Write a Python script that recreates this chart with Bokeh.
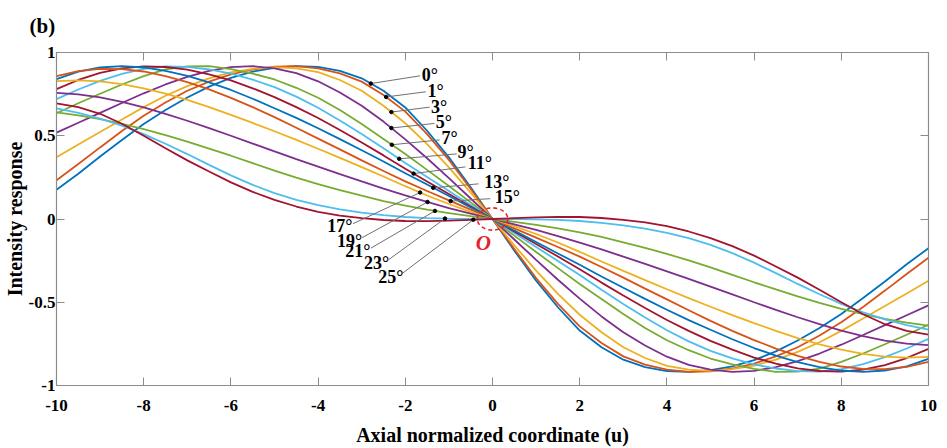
import numpy as np
from bokeh.plotting import figure
from bokeh.models import Range1d, FixedTicker, LinearAxis, Label, ColumnDataSource
from bokeh.core.properties import value
from bokeh.embed import file_html
from bokeh.resources import INLINE

# ---------------- data ----------------
u = [-10, -9.5, -9, -8.5, -8, -7.5, -7, -6.5, -6, -5.5, -5, -4.5, -4, -3.5, -3, -2.5, -2, -1.5, -1, -0.5,
     0, 0.5, 1, 1.5, 2, 2.5, 3, 3.5, 4, 4.5, 5, 5.5, 6, 6.5, 7, 7.5, 8, 8.5, 9, 9.5, 10]

angles = ["0°", "1°", "3°", "5°", "7°", "9°", "11°", "13°", "15°", "17°", "19°", "21°", "23°", "25°"]

r00 = [0.175, 0.272, 0.375, 0.475, 0.57, 0.655, 0.73, 0.795, 0.848, 0.885, 0.908, 0.918, 0.913, 0.89, 0.845,
       0.77, 0.67, 0.53, 0.37, 0.19, 0.0,
       -0.19, -0.37, -0.53, -0.67, -0.77, -0.845, -0.89, -0.913, -0.918, -0.908, -0.885, -0.848, -0.795,
       -0.73, -0.655, -0.57, -0.475, -0.375, -0.272, -0.175]
r01 = [0.232, 0.33, 0.43, 0.528, 0.62, 0.70, 0.77, 0.825, 0.868, 0.898, 0.915, 0.918, 0.905, 0.875, 0.825,
       0.745, 0.645, 0.51, 0.355, 0.18, 0.0,
       -0.18, -0.355, -0.51, -0.645, -0.745, -0.825, -0.875, -0.905, -0.918, -0.915, -0.898, -0.868, -0.825,
       -0.77, -0.70, -0.62, -0.528, -0.43, -0.33, -0.232]
r03 = [0.371, 0.447, 0.522, 0.598, 0.672, 0.74, 0.798, 0.845, 0.88, 0.902, 0.912, 0.905, 0.882, 0.835, 0.77,
       0.68, 0.575, 0.45, 0.31, 0.158, 0.0,
       -0.158, -0.31, -0.45, -0.575, -0.68, -0.77, -0.835, -0.882, -0.905, -0.912, -0.902, -0.88, -0.845,
       -0.798, -0.74, -0.672, -0.598, -0.522, -0.447, -0.371]
r05 = [0.519, 0.578, 0.637, 0.697, 0.755, 0.808, 0.853, 0.89, 0.912, 0.918, 0.905, 0.876, 0.827, 0.76, 0.68,
       0.585, 0.478, 0.365, 0.245, 0.123, 0.0,
       -0.123, -0.245, -0.365, -0.478, -0.585, -0.68, -0.76, -0.827, -0.876, -0.905, -0.918, -0.912, -0.89,
       -0.853, -0.808, -0.755, -0.697, -0.637, -0.578, -0.519]
r07 = [0.635, 0.695, 0.752, 0.808, 0.858, 0.898, 0.917, 0.918, 0.90, 0.873, 0.838, 0.788, 0.728, 0.655, 0.57,
       0.48, 0.39, 0.295, 0.198, 0.10, 0.0,
       -0.10, -0.198, -0.295, -0.39, -0.48, -0.57, -0.655, -0.728, -0.788, -0.838, -0.873, -0.90, -0.918,
       -0.917, -0.898, -0.858, -0.808, -0.752, -0.695, -0.635]
r09 = [0.72, 0.778, 0.83, 0.872, 0.902, 0.916, 0.914, 0.898, 0.873, 0.837, 0.792, 0.735, 0.668, 0.592, 0.51,
       0.425, 0.337, 0.252, 0.168, 0.084, 0.0,
       -0.084, -0.168, -0.252, -0.337, -0.425, -0.51, -0.592, -0.668, -0.735, -0.792, -0.837, -0.873, -0.898,
       -0.914, -0.916, -0.902, -0.872, -0.83, -0.778, -0.72]
r11 = [0.78, 0.835, 0.878, 0.905, 0.917, 0.913, 0.897, 0.868, 0.832, 0.785, 0.732, 0.672, 0.607, 0.535, 0.46,
       0.382, 0.302, 0.225, 0.15, 0.075, 0.0,
       -0.075, -0.15, -0.225, -0.302, -0.382, -0.46, -0.535, -0.607, -0.672, -0.732, -0.785, -0.832, -0.868,
       -0.897, -0.913, -0.917, -0.905, -0.878, -0.835, -0.78]
r13 = [0.84, 0.885, 0.91, 0.918, 0.91, 0.89, 0.86, 0.82, 0.775, 0.722, 0.665, 0.607, 0.545, 0.48, 0.413,
       0.345, 0.275, 0.207, 0.138, 0.069, 0.0,
       -0.069, -0.138, -0.207, -0.275, -0.345, -0.413, -0.48, -0.545, -0.607, -0.665, -0.722, -0.775, -0.82,
       -0.86, -0.89, -0.91, -0.918, -0.91, -0.885, -0.84]
r15 = [0.858, 0.888, 0.902, 0.90, 0.886, 0.858, 0.822, 0.778, 0.727, 0.672, 0.612, 0.548, 0.483, 0.418, 0.352,
       0.288, 0.226, 0.168, 0.112, 0.056, 0.0,
       -0.056, -0.112, -0.168, -0.226, -0.288, -0.352, -0.418, -0.483, -0.548, -0.612, -0.672, -0.727, -0.778,
       -0.822, -0.858, -0.886, -0.90, -0.902, -0.888, -0.858]
r17 = [0.828, 0.832, 0.826, 0.81, 0.785, 0.753, 0.715, 0.672, 0.625, 0.577, 0.527, 0.475, 0.422, 0.367, 0.312,
       0.255, 0.197, 0.141, 0.09, 0.043, 0.0,
       -0.043, -0.09, -0.141, -0.197, -0.255, -0.312, -0.367, -0.422, -0.475, -0.527, -0.577, -0.625, -0.672,
       -0.715, -0.753, -0.785, -0.81, -0.826, -0.832, -0.828]
r19 = [0.758, 0.748, 0.73, 0.703, 0.67, 0.632, 0.59, 0.546, 0.50, 0.453, 0.406, 0.36, 0.315, 0.27, 0.226,
       0.183, 0.142, 0.103, 0.066, 0.032, 0.0,
       -0.032, -0.066, -0.103, -0.142, -0.183, -0.226, -0.27, -0.315, -0.36, -0.406, -0.453, -0.50, -0.546,
       -0.59, -0.632, -0.67, -0.703, -0.73, -0.748, -0.758]
r21 = [0.64, 0.622, 0.60, 0.572, 0.54, 0.504, 0.465, 0.423, 0.38, 0.335, 0.29, 0.249, 0.21, 0.174, 0.14,
       0.108, 0.08, 0.056, 0.035, 0.017, 0.0,
       -0.017, -0.035, -0.056, -0.08, -0.108, -0.14, -0.174, -0.21, -0.249, -0.29, -0.335, -0.38, -0.423,
       -0.465, -0.504, -0.54, -0.572, -0.60, -0.622, -0.64]
r23 = [0.665, 0.637, 0.603, 0.56, 0.51, 0.452, 0.39, 0.325, 0.262, 0.205, 0.155, 0.115, 0.083, 0.058, 0.038,
       0.023, 0.012, 0.005, 0.002, 0.001, 0.0,
       -0.001, -0.002, -0.005, -0.012, -0.023, -0.038, -0.058, -0.083, -0.115, -0.155, -0.205, -0.262, -0.325,
       -0.39, -0.452, -0.51, -0.56, -0.603, -0.637, -0.665]
r25 = [0.695, 0.672, 0.632, 0.572, 0.50, 0.425, 0.352, 0.285, 0.22, 0.163, 0.115, 0.075, 0.043, 0.02, 0.005,
       -0.006, -0.012, -0.013, -0.01, -0.005, 0.0,
       0.005, 0.01, 0.013, 0.012, 0.006, -0.005, -0.02, -0.043, -0.075, -0.115, -0.163, -0.22, -0.285,
       -0.352, -0.425, -0.50, -0.572, -0.632, -0.672, -0.695]

series = [r00, r01, r03, r05, r07, r09, r11, r13, r15, r17, r19, r21, r23, r25]

x_ticks = [-10, -8, -6, -4, -2, 0, 2, 4, 6, 8, 10]
y_ticks = [-1, -0.5, 0, 0.5, 1]
y_tick_labels = ["-1", "-0.5", "0", "0.5", "1"]

# annotation anchors (u of the marked point on each curve, label position, leader end)
dot_u = [-2.79, -2.44, -2.32, -2.32, -2.31, -2.14, -1.81, -1.36, -0.96,
         -1.66, -1.49, -1.32, -1.09, -0.44]
lab_x = [-1.62, -1.49, -1.41, -1.30, -1.17, -0.80, -0.57, -0.19, 0.05,
         -3.21, -2.99, -2.80, -2.37, -2.04]
lab_y = [0.864, 0.768, 0.674, 0.581, 0.489, 0.405, 0.335, 0.225, 0.135,
         -0.044, -0.130, -0.194, -0.263, -0.350]
end_x = [-1.66, -1.53, -1.44, -1.33, -1.21, -0.82, -0.62, -0.32, -0.05,
         -3.20, -2.99, -2.79, -2.38, -2.06]
end_y = [0.860, 0.764, 0.672, 0.574, 0.475, 0.391, 0.313, 0.211, 0.122,
         -0.028, -0.112, -0.175, -0.244, -0.325]

colors = ["#0072BD", "#D95319", "#EDB120", "#7E2F8E", "#77AC30", "#4DBEEE", "#A2142F"]
SERIF = "Liberation Serif"
AX = "#8c8c8c"

p = figure(width=947, height=448, output_backend="svg", toolbar_location=None,
           x_range=Range1d(-10, 10), y_range=Range1d(-1, 1),
           min_border_left=53, min_border_right=19, min_border_top=52, min_border_bottom=62)
p.outline_line_color = None
p.grid.visible = False
p.background_fill_color = "white"

# title "(b)"
p.title.text = "(b)"
p.title.align = "left"
p.title.vertical_align = "top"
p.title.offset = -27
p.title.standoff = 26
p.title.text_font = SERIF
p.title.text_font_style = "bold"
p.title.text_font_size = "21px"
p.title.text_color = "black"

for i, ys in enumerate(series):
    p.line(u, ys, line_color=colors[i % 7], line_width=1.8)

def style_axis(ax, show_labels=True):
    ax.axis_line_color = AX
    ax.axis_line_width = 1.2
    ax.major_tick_line_color = AX
    ax.major_tick_in = 8
    ax.major_tick_out = 0
    ax.minor_tick_line_color = None
    ax.major_label_text_font = SERIF
    ax.major_label_text_font_style = "bold"
    ax.major_label_text_color = "black"
    ax.axis_label_text_font = SERIF
    ax.axis_label_text_font_style = "bold"
    ax.axis_label_text_color = "black"
    ax.axis_label_text_font_size = "20px"
    if not show_labels:
        ax.major_label_text_font_size = "0px"
        ax.major_label_standoff = 0

xa = p.xaxis[0]
ya = p.yaxis[0]
xa.ticker = FixedTicker(ticks=x_ticks)
ya.ticker = FixedTicker(ticks=y_ticks)
xa.major_label_overrides = {t: str(t) for t in x_ticks}
ya.major_label_overrides = {t: s for t, s in zip(y_ticks, y_tick_labels)}
style_axis(xa)
style_axis(ya)
xa.major_label_text_font_size = "17px"
ya.major_label_text_font_size = "17px"
xa.major_label_standoff = 14
ya.major_label_standoff = 1
xa.axis_label = "Axial normalized coordinate (u)"
ya.axis_label = "Intensity response"
xa.axis_label_standoff = 10
ya.axis_label_standoff = 0

top = LinearAxis(ticker=FixedTicker(ticks=x_ticks),
                 major_label_overrides={t: "" for t in x_ticks})
right = LinearAxis(ticker=FixedTicker(ticks=y_ticks),
                   major_label_overrides={t: "" for t in y_ticks})
style_axis(top, False)
style_axis(right, False)
p.add_layout(top, "above")
p.add_layout(right, "right")

# leader lines, dots and angle labels
dot_y = [float(np.interp(du, u, s)) for du, s in zip(dot_u, series)]
p.segment(x0=dot_u, y0=dot_y, x1=end_x, y1=end_y, line_color="#707070", line_width=1)
p.scatter(dot_u, dot_y, size=3.5, color="black")

src_r = ColumnDataSource(dict(x=lab_x[:9], y=lab_y[:9], t=angles[:9]))
src_l = ColumnDataSource(dict(x=lab_x[9:], y=lab_y[9:], t=angles[9:]))
p.text(x="x", y="y", text="t", source=src_r, text_align="left", text_baseline="middle",
       text_font=value(SERIF), text_font_style="bold", text_font_size="18px", text_color="black")
p.text(x="x", y="y", text="t", source=src_l, text_align="right", text_baseline="middle",
       text_font=value(SERIF), text_font_style="bold", text_font_size="18px", text_color="black")

# red dashed circle at origin and "O"
p.ellipse(x=[0], y=[0], width=0.70, height=0.134, fill_color=None,
          line_color="#E8202A", line_dash="4 3", line_width=1.6)
p.add_layout(Label(x=-0.21, y=-0.144, text="O", text_align="center", text_baseline="middle",
                   text_font=SERIF, text_font_style="bold italic", text_font_size="21px",
                   text_color="#E8202A"))

open("out.html", "w").write(file_html(p, INLINE))
